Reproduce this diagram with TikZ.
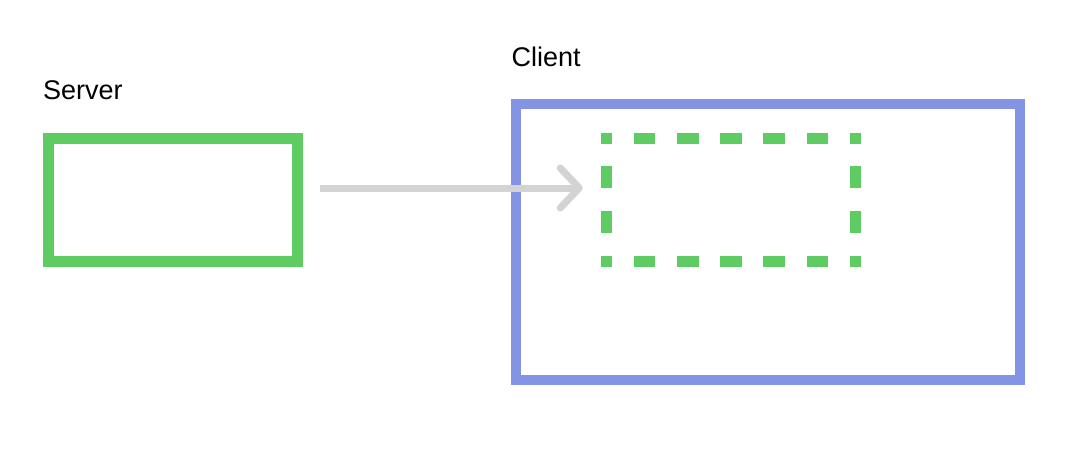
\documentclass[tikz,border=0pt]{standalone}
\usepackage{fontspec}
\setmainfont{Liberation Sans}
\usetikzlibrary{arrows.meta}
\definecolor{srvgreen}{HTML}{5ECC62}
\definecolor{cliblue}{HTML}{8494E4}
\definecolor{arrgray}{HTML}{D3D3D3}
\begin{document}
\begin{tikzpicture}[x=1pt,y=-1pt,
  box/.style={draw, inner sep=0pt, outer sep=0pt, minimum width=248.5pt, minimum height=123pt},
  srvbox/.style={box, draw=srvgreen, line width=11pt},
  clibox/.style={draw=cliblue, line width=10pt, inner sep=0pt, outer sep=0pt, minimum width=504pt, minimum height=276pt},
  dashside/.style={draw=srvgreen, line width=11pt, line cap=butt, shorten <=-5.5pt, shorten >=-5.5pt},
  hdash/.style={dashside, dash pattern=on 21.6pt off 21.6pt, dash phase=10.6pt},
  vdash/.style={dashside, dash pattern=on 22.4pt off 22.4pt, dash phase=11.4pt},
  label/.style={inner sep=0pt, anchor=base west, font=\fontsize{27pt}{32pt}\selectfont},
  conn/.style={draw=arrgray, line width=7pt, -{Straight Barb[length=19pt, width=40pt, round]}}
]
\useasboundingbox[fill=white] (0,0) rectangle (1086,464);
\node[srvbox] (srv) at (172.75,199.5) {};
\node[clibox] (cli) at (768,242.25) {};
\node[box, draw=none] (dash) at (731,199.5) {};
\draw[hdash] (dash.north west) -- (dash.north east);
\draw[hdash] (dash.south west) -- (dash.south east);
\draw[vdash] (dash.north west) -- (dash.south west);
\draw[vdash] (dash.north east) -- (dash.south east);
\node[label] (srvlab) at (43,99.3) {Server};
\node[label] (clilab) at (511.5,66) {Client};
\draw[conn, shorten <=23pt, shorten >=24pt] ([yshift=11.5pt]srv.east) -- ([yshift=11.5pt]dash.west);
\end{tikzpicture}
\end{document}
